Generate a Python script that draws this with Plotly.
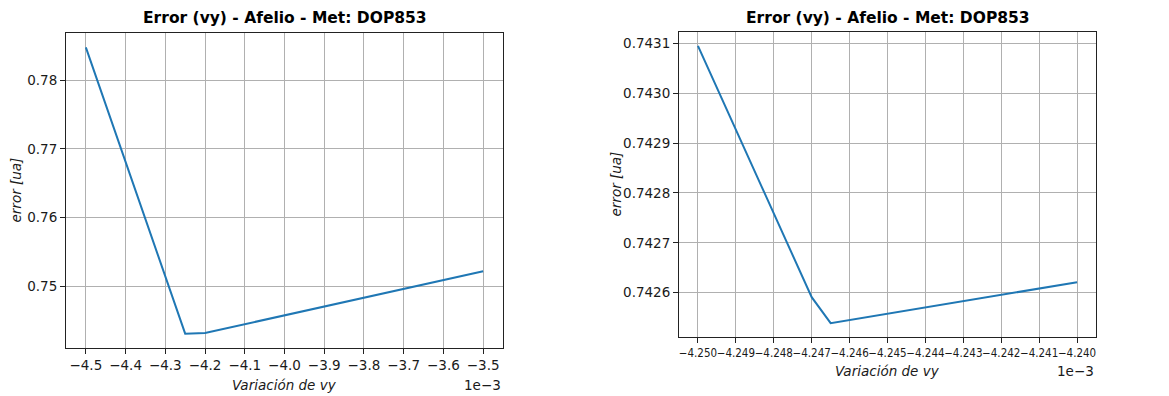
import plotly.graph_objects as go

W, H = 1169, 396

# Wide sweep of the vy perturbation (axis shown in units of 1e-3)
vy_wide = [-4.5e-3, -4.25e-3, -4.2e-3, -3.5e-3]
err_wide = [0.7848, 0.7431, 0.7432, 0.7522]
wide_xticks = [-4.5, -4.4, -4.3, -4.2, -4.1, -4.0, -3.9, -3.8, -3.7, -3.6, -3.5]
wide_yticks = [0.75, 0.76, 0.77, 0.78]

# Fine sweep around the minimum
vy_fine = [-4.25e-3, -4.247e-3, -4.2465e-3, -4.24e-3]
err_fine = [0.743095, 0.742591, 0.742539, 0.742621]
fine_xticks = [-4.250, -4.249, -4.248, -4.247, -4.246, -4.245, -4.244, -4.243, -4.242, -4.241, -4.240]
fine_yticks = [0.7426, 0.7427, 0.7428, 0.7429, 0.7430, 0.7431]

TITLE = "Error (vy) - Afelio - Met: DOP853"
XLABEL = "Variación de vy"
YLABEL = "error [ua]"
FONT = "DejaVu Sans"
FONT_NARROW = "DejaVu Sans Condensed, DejaVu Sans"
TEXT = "#1a1a1a"
BLUE = "#1f77b4"


def padded(vals, frac=0.05):
    lo, hi = min(vals), max(vals)
    span = hi - lo
    return [lo - frac * span, hi + frac * span]


def minus(s):
    return s.replace("-", "\u2212")


# panel boxes in pixels: (left, right, top, bottom)
boxes = [(66, 503, 33, 348), (679, 1096, 32, 337)]


def px_dom(b):
    l, r, t, bt = b
    return [l / W, r / W], [(H - bt) / H, (H - t) / H]


fig = go.Figure()
fig.add_trace(go.Scatter(x=vy_wide, y=err_wide, mode="lines",
                         line=dict(color=BLUE, width=2), xaxis="x", yaxis="y",
                         showlegend=False))
fig.add_trace(go.Scatter(x=vy_fine, y=err_fine, mode="lines",
                         line=dict(color=BLUE, width=2), xaxis="x2", yaxis="y2",
                         showlegend=False))

common = dict(showline=True, linecolor="#222222", linewidth=1, mirror=True,
              showgrid=True, gridcolor="#b0b0b0", gridwidth=1,
              ticks="outside", ticklen=5, tickcolor="#222222", tickwidth=1,
              zeroline=False, tickangle=0)

xd1, yd1 = px_dom(boxes[0])
xd2, yd2 = px_dom(boxes[1])

fig.update_layout(
    width=W, height=H, autosize=False,
    margin=dict(l=0, r=0, t=0, b=0),
    paper_bgcolor="white", plot_bgcolor="white",
    font=dict(family=FONT, color=TEXT, size=13.5),
    xaxis=dict(domain=xd1, anchor="y", range=padded(vy_wide),
               tickvals=[v * 1e-3 for v in wide_xticks],
               ticktext=[minus(f"{v:.1f}") for v in wide_xticks],
               tickfont=dict(size=13.5), **common),
    yaxis=dict(domain=yd1, anchor="x", range=padded(err_wide),
               tickvals=wide_yticks,
               ticktext=[f"{v:.2f}" for v in wide_yticks],
               tickfont=dict(size=13.5), **common),
    xaxis2=dict(domain=xd2, anchor="y2", range=padded(vy_fine),
                tickvals=[v * 1e-3 for v in fine_xticks],
                ticktext=[minus(f"{v:.3f}") for v in fine_xticks],
                tickfont=dict(size=11.5, family=FONT_NARROW), **common),
    yaxis2=dict(domain=yd2, anchor="x2", range=padded(err_fine),
                tickvals=fine_yticks,
                ticktext=[f"{v:.4f}" for v in fine_yticks],
                tickfont=dict(size=13.5), **common),
)

ann = []
for (l, r, t, b), xlab_y, ylab_x in [(boxes[0], 385, 15), (boxes[1], 371, 615)]:
    cx = (l + r) / 2
    ann.append(dict(text=f"<b>{TITLE}</b>", x=cx / W, y=(H - 18) / H,
                    font=dict(size=15.5, color="black")))
    ann.append(dict(text=f"<i>{XLABEL}</i>", x=cx / W, y=(H - xlab_y) / H,
                    font=dict(size=13.5)))
    ann.append(dict(text=f"<i>{YLABEL}</i>", x=ylab_x / W, y=(H - (t + b) / 2) / H,
                    textangle=-90, font=dict(size=13.5)))
    ann.append(dict(text="1e\u22123", x=r / W, y=(H - xlab_y) / H,
                    xanchor="right", font=dict(size=13.5)))

for a in ann:
    a.setdefault("xanchor", "center")
    fig.add_annotation(xref="paper", yref="paper", yanchor="middle",
                       showarrow=False, **a)

fig.write_html("out.html", config={"responsive": False})
